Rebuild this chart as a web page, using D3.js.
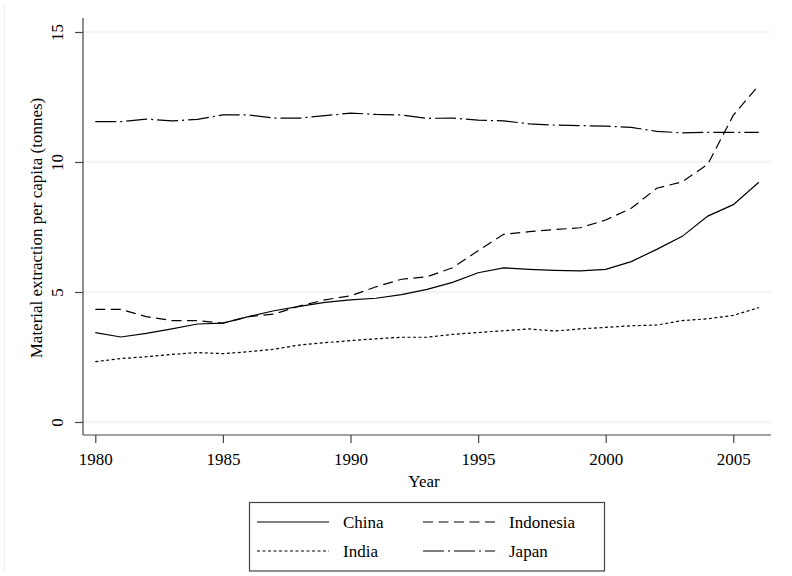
<!DOCTYPE html>
<html><head><meta charset="utf-8">
<script src="https://cdn.jsdelivr.net/npm/d3@7/dist/d3.min.js"></script>
<style>body{margin:0;background:#fff}svg{display:block}text{font-family:"Liberation Serif","Times New Roman",serif;fill:#000}</style>
</head><body><svg id="c" width="792" height="576"></svg>
<script>
const years = d3.range(1980, 2007);
const china = [3.44,3.27,3.41,3.58,3.77,3.80,4.05,4.28,4.45,4.60,4.70,4.76,4.90,5.10,5.37,5.74,5.93,5.87,5.83,5.81,5.87,6.17,6.64,7.14,7.92,8.36,9.22];
const indonesia = [4.33,4.33,4.05,3.90,3.90,3.80,4.05,4.15,4.46,4.70,4.85,5.20,5.49,5.59,5.93,6.59,7.22,7.32,7.40,7.47,7.77,8.22,8.99,9.24,9.91,11.80,12.95];
const india = [2.32,2.44,2.51,2.60,2.67,2.63,2.70,2.80,2.96,3.05,3.13,3.20,3.26,3.26,3.37,3.44,3.51,3.58,3.50,3.58,3.64,3.70,3.73,3.90,3.97,4.10,4.40];
const japan = [11.55,11.55,11.65,11.58,11.64,11.81,11.81,11.69,11.69,11.78,11.88,11.83,11.81,11.68,11.69,11.61,11.58,11.47,11.42,11.40,11.38,11.33,11.18,11.12,11.14,11.14,11.14];
const xTicks = [1980,1985,1990,1995,2000,2005];
const yTicks = [0,5,10,15];
const seriesNames = ["China","Indonesia","India","Japan"];
const dashes = {China:null, Indonesia:"10,5.5", India:"3,2.5", Japan:"21,4,2,4"};

const svg = d3.select("#c");
const L=83, R=771, T=18, B=435;
const x = d3.scaleLinear().domain([1980,2005]).range([95.3,733.3]);
const y = d3.scaleLinear().domain([0,15]).range([422,32]);

svg.append("line").attr("x1",4.5).attr("x2",4.5).attr("y1",4).attr("y2",572).attr("stroke","#eee");

// grid
svg.append("g").selectAll("line").data(yTicks).join("line")
  .attr("x1",L).attr("x2",R).attr("y1",d=>y(d)).attr("y2",d=>y(d))
  .attr("stroke","#eaeaea").attr("stroke-width",1.2);

// axes
const ya = svg.append("g").attr("transform",`translate(${L},0)`)
  .call(d3.axisLeft(y).tickValues(yTicks).tickSize(8).tickPadding(6));
ya.select(".domain").attr("d",`M0,${T}V${B}`).attr("stroke","#444").attr("stroke-width",1.2);
ya.selectAll(".tick line").attr("stroke","#444").attr("stroke-width",1.2);
ya.selectAll(".tick text").attr("font-size",17).attr("transform","rotate(-90)")
  .attr("x",0).attr("y",-20).attr("dy",0).attr("text-anchor","middle")
  .attr("font-family","Liberation Serif");

const xa = svg.append("g").attr("transform",`translate(0,${B})`)
  .call(d3.axisBottom(x).tickValues(xTicks).tickFormat(d3.format("d")).tickSize(8).tickPadding(6));
xa.select(".domain").attr("d",`M${L},0H${R}`).attr("stroke","#444").attr("stroke-width",1.2);
xa.selectAll(".tick line").attr("stroke","#444").attr("stroke-width",1.2);
xa.selectAll(".tick text").attr("font-size",17).attr("font-family","Liberation Serif").attr("dy",0).attr("y",30);

// titles
svg.append("text").attr("x",424).attr("y",487).attr("text-anchor","middle").attr("font-size",17).text("Year");
svg.append("text").attr("transform","translate(42,228) rotate(-90)").attr("text-anchor","middle").attr("font-size",17)
  .text("Material extraction per capita (tonnes)");

// lines
const data = {China:china, Indonesia:indonesia, India:india, Japan:japan};
const line = d3.line().x((d,i)=>x(years[i])).y(d=>y(d));
seriesNames.forEach(n=>{
  svg.append("path").attr("d",line(data[n])).attr("fill","none").attr("stroke","#000")
    .attr("stroke-width",1.2).attr("stroke-dasharray",dashes[n]);
});

// legend
const lg = svg.append("g");
lg.append("rect").attr("x",249.5).attr("y",502.5).attr("width",355).attr("height",68.5)
  .attr("fill","#fff").attr("stroke","#444").attr("stroke-width",1.2);
const pos = [[257,522],[423,522],[257,551],[423,551]];
const order = ["China","Indonesia","India","Japan"];
order.forEach((n,i)=>{
  const [px,py]=pos[i];
  lg.append("line").attr("x1",px).attr("x2",px+72).attr("y1",py).attr("y2",py)
    .attr("stroke","#000").attr("stroke-width",1.2).attr("stroke-dasharray",dashes[n]);
  lg.append("text").attr("x",px+86).attr("y",py+6).attr("font-size",17).text(n);
});
</script></body></html>
